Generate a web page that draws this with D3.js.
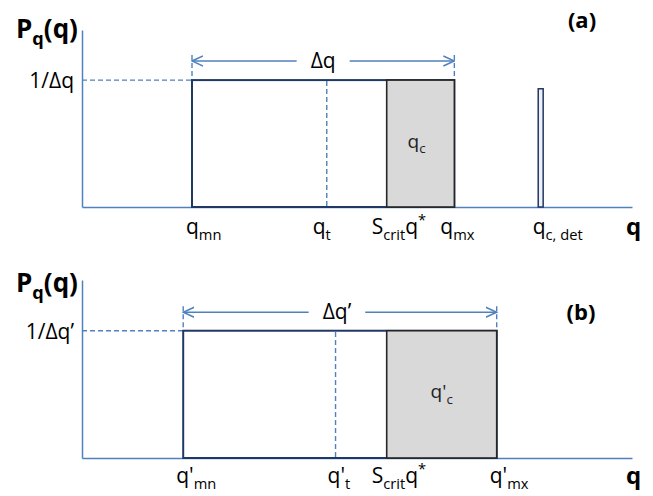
<!DOCTYPE html>
<html>
<head>
<meta charset="utf-8">
<script src="https://cdn.jsdelivr.net/npm/d3@7"></script>
<style>
  html, body { margin: 0; padding: 0; background: #fff; }
  svg { display: block; font-family: "Open Sans", "Noto Sans", sans-serif; }
</style>
</head>
<body>
<svg id="chart" width="653" height="496"></svg>
<script>
// ---------- data (q positions in normalised axis units 0..1) ----------
const panelIds      = ["(a)", "(b)"];
const panelA_q      = [0.200, 0.445, 0.554, 0.677, 0.834]; // q_mn, q_t, S_crit q*, q_mx, q_c,det
const panelB_q      = [0.184, 0.461, 0.554, 0.754];        // q'_mn, q'_t, S_crit q*, q'_mx
const densityLevel  = [0.717, 0.715];                      // 1/Δq , 1/Δq'
const arrowLevel    = [0.825, 0.819];
const detHeight     = 0.668;                               // height of q_c,det spike
const detWidth      = 0.009;
const yLabels       = ["1/Δq", "1/Δq’"];
const widthLabels   = ["Δq", "Δq’"];
const boxLabelsA    = [["q","n"],["c","sub"]];
const boxLabelsB    = [["q'","n"],["c","sub"]];
const tickLabelsA = [
  [["q","n"],["mn","sub"]],
  [["q","n"],["t","sub"]],
  [["S","n"],["crit","sub"],["q","n"],["*","sup"]],
  [["q","n"],["mx","sub"]],
  [["q","n"],["c, det","sub"]]
];
const tickLabelsB = [
  [["q'","n"],["mn","sub"]],
  [["q'","n"],["t","sub"]],
  [["S","n"],["crit","sub"],["q","n"],["*","sup"]],
  [["q'","n"],["mx","sub"]]
];

// ---------- layout / style ----------
const AXIS = "#4f81bd", NAVY = "#1f3864", GREY = "#d9d9d9", DARK = "#262626";
const FS = 21;
const layouts = [
  {top: 30,  bottom: 207, titleY: 38,  idY: 28,  idX: 582, labelDx: [-6, -14, -15, -14, -8], tickY: 234},
  {top: 280, bottom: 458, titleY: 292, idY: 320, idX: 581, labelDx: [-7, -8, -15, -7],      tickY: 483}
];
const x = d3.scaleLinear().domain([0, 1]).range([82, 632]);
const svg = d3.select("#chart");

svg.append("defs").append("marker")
  .attr("id", "chev").attr("viewBox", "0 -6 12 12")
  .attr("refX", 11).attr("refY", 0)
  .attr("markerWidth", 12).attr("markerHeight", 12)
  .attr("markerUnits", "userSpaceOnUse").attr("orient", "auto-start-reverse")
  .append("path").attr("d", "M0,-5L11,0L0,5")
  .attr("fill", "none").attr("stroke", AXIS).attr("stroke-width", 1.5);

function rich(sel, parts, size) {
  let shift = 0;
  parts.forEach(([t, k]) => {
    const target = k === "sub" ? size * 0.28 : k === "sup" ? -size * 0.42 : 0;
    sel.append("tspan").attr("dy", target - shift)
      .attr("font-size", k === "n" ? size : size * 0.7).text(t);
    shift = target;
  });
}

function drawPanel(i, q, tickLabels, boxLabel) {
  const L = layouts[i];
  const y = d3.scaleLinear().domain([0, 1]).range([L.bottom, L.top]);
  const g = svg.append("g");
  const qmn = q[0], qt = q[1], qcrit = q[2], qmx = q[3];
  const lev = densityLevel[i];

  // axes (domain lines only)
  g.append("g").attr("transform", `translate(0,${L.bottom})`)
    .call(d3.axisBottom(x).tickValues([]).tickSizeOuter(0))
    .call(a => a.select(".domain").attr("stroke", AXIS).attr("stroke-width", 1.5));
  g.append("g").attr("transform", `translate(${x(0)},0)`)
    .call(d3.axisLeft(y).tickValues([]).tickSizeOuter(0))
    .call(a => a.select(".domain").attr("stroke", AXIS).attr("stroke-width", 1.5));

  // dashed guides
  const dash = "5,3";
  g.append("line").attr("x1", x(0)).attr("x2", x(qmn)).attr("y1", y(lev)).attr("y2", y(lev))
    .attr("stroke", AXIS).attr("stroke-width", 1.4).attr("stroke-dasharray", dash);
  [qmn, qmx].forEach(v => g.append("line").attr("x1", x(v)).attr("x2", x(v))
    .attr("y1", y(arrowLevel[i]) - 6).attr("y2", y(lev))
    .attr("stroke", AXIS).attr("stroke-width", 1.4).attr("stroke-dasharray", dash));

  // main uniform pdf rectangle
  g.append("rect").attr("x", x(qmn)).attr("y", y(lev))
    .attr("width", x(qmx) - x(qmn)).attr("height", y(0) - y(lev))
    .attr("fill", "#fff").attr("stroke", NAVY).attr("stroke-width", 2);
  // q_t dashed
  g.append("line").attr("x1", x(qt)).attr("x2", x(qt)).attr("y1", y(0) - 1).attr("y2", y(lev) + 1)
    .attr("stroke", AXIS).attr("stroke-width", 1.4).attr("stroke-dasharray", dash);
  // critical (grey) region
  g.append("rect").attr("x", x(qcrit)).attr("y", y(lev))
    .attr("width", x(qmx) - x(qcrit)).attr("height", y(0) - y(lev))
    .attr("fill", GREY).attr("stroke", DARK).attr("stroke-width", 1.6);
  const bl = g.append("text").attr("x", (x(qcrit) + x(qmx)) / 2 - (i === 0 ? 4 : 0))
    .attr("y", (y(lev) + y(0)) / 2 + 4).attr("text-anchor", "middle").attr("fill", "#222");
  rich(bl, boxLabel, 19);

  // deterministic spike
  if (q.length > 4) {
    g.append("rect").attr("x", x(q[4]) - (x(detWidth) - x(0)) / 2).attr("y", y(detHeight))
      .attr("width", x(detWidth) - x(0)).attr("height", y(0) - y(detHeight))
      .attr("fill", "#eef0f5").attr("stroke", NAVY).attr("stroke-width", 1.5);
  }

  // Δq arrow with label
  const ay = y(arrowLevel[i]);
  const cx = (x(qmn) + x(qmx)) / 2 - (i === 1 ? 3 : 0);
  const wl = g.append("text").attr("x", cx).attr("y", ay + 7).attr("text-anchor", "middle")
    .attr("font-size", FS).attr("fill", "#000").text(widthLabels[i]);
  const bw = wl.node().getComputedTextLength();
  const pad = 14;
  g.append("line").attr("x1", cx - bw / 2 - pad).attr("x2", x(qmn)).attr("y1", ay).attr("y2", ay)
    .attr("stroke", AXIS).attr("stroke-width", 1.5).attr("marker-end", "url(#chev)");
  g.append("line").attr("x1", cx + bw / 2 + pad).attr("x2", x(qmx)).attr("y1", ay).attr("y2", ay)
    .attr("stroke", AXIS).attr("stroke-width", 1.5).attr("marker-end", "url(#chev)");

  // y label 1/Δq
  g.append("text").attr("x", 74).attr("y", y(lev) + 8).attr("text-anchor", "end")
    .attr("font-size", FS).attr("fill", "#000").text(yLabels[i]);

  // title P_q(q)
  const t = g.append("text").attr("x", 16).attr("y", L.titleY).attr("font-weight", "bold").attr("fill", "#000");
  rich(t, [["P","n"],["q","sub"],["(q)","n"]], 26);

  // panel id
  g.append("text").attr("x", L.idX).attr("y", L.idY).attr("text-anchor", "middle")
    .attr("font-size", 22).attr("font-weight", "bold").attr("fill", "#000").text(panelIds[i]);

  // tick labels
  q.forEach((v, j) => {
    const tl = g.append("text").attr("x", x(v) + L.labelDx[j]).attr("y", L.tickY).attr("fill", "#000");
    rich(tl, tickLabels[j], FS);
  });
  // axis label q
  g.append("text").attr("x", 626).attr("y", L.tickY + 1).attr("font-size", 24)
    .attr("font-weight", "bold").attr("fill", "#000").text("q");
}

drawPanel(0, panelA_q, tickLabelsA, boxLabelsA);
drawPanel(1, panelB_q, tickLabelsB, boxLabelsB);
</script>
</body>
</html>
